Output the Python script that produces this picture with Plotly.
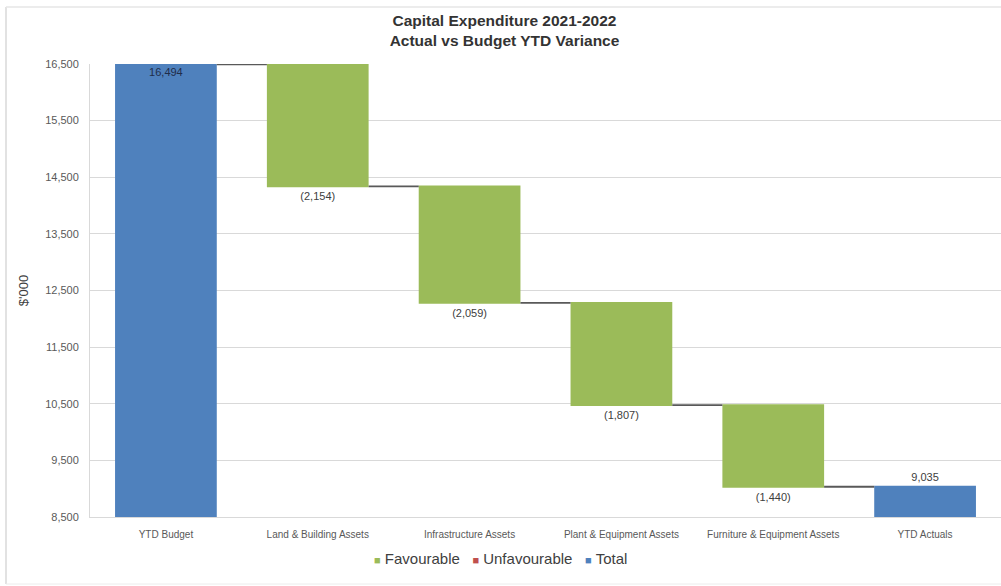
import plotly.graph_objects as go

# Capital expenditure waterfall: YTD budget, variances by asset class, YTD actuals
categories = ["YTD Budget", "Land & Building Assets", "Infrastructure Assets",
              "Plant & Equipment Assets", "Furniture & Equipment Assets", "YTD Actuals"]
values = [16494, -2154, -2059, -1807, -1440, 9035]
measures = ["absolute", "relative", "relative", "relative", "relative", "absolute"]
labels = ["16,494", "(2,154)", "(2,059)", "(1,807)", "(1,440)", "9,035"]
y_ticks = [8500, 9500, 10500, 11500, 12500, 13500, 14500, 15500, 16500]
y_tick_text = ["8,500", "9,500", "10,500", "11,500", "12,500", "13,500", "14,500", "15,500", "16,500"]
legend_names = ["Favourable", "Unfavourable", "Total"]

GREEN = "#9bbb59"
RED = "#c0504d"
BLUE = "#4f81bd"
legend_colors = [GREEN, RED, BLUE]
FONT = "Liberation Sans, Arial, sans-serif"
NBSP = "\u00a0"

fig = go.Figure()
fig.add_trace(go.Waterfall(
    x=categories,
    y=values,
    measure=measures,
    text=labels,
    textposition=["inside", "outside", "outside", "outside", "outside", "outside"],
    insidetextanchor="end",
    textfont=dict(family=FONT, size=11, color="#404040"),
    insidetextfont=dict(family=FONT, size=11, color="#1f2d4a"),
    outsidetextfont=dict(family=FONT, size=11, color="#404040"),
    decreasing=dict(marker=dict(color=GREEN)),
    increasing=dict(marker=dict(color=RED)),
    totals=dict(marker=dict(color=BLUE)),
    connector=dict(mode="between", line=dict(color="#595959", width=1.8)),
    width=0.67,
    showlegend=False,
    hoverinfo="x+y",
))

# Compact legend row: small coloured squares followed by the series names
legend_text = (NBSP * 3).join(
    f"<span style='color:{c};font-size:11px'>■</span>{NBSP}{n}"
    for n, c in zip(legend_names, legend_colors)
)

fig.update_layout(
    width=1001, height=586,
    margin=dict(l=90, r=0, t=64, b=69),
    paper_bgcolor="white",
    plot_bgcolor="white",
    font=dict(family=FONT, color="#404040"),
    showlegend=False,
    title=dict(
        text="<b>Capital Expenditure 2021-2022<br>Actual vs Budget YTD Variance</b>",
        x=0.504, xref="container", xanchor="center",
        yref="container", y=1 - 26 / 586, yanchor="middle",
        font=dict(family=FONT, size=15.5, color="#333333"),
    ),
    annotations=[dict(
        text=legend_text, showarrow=False,
        xref="paper", yref="paper",
        x=(500 - 90) / 911, y=(517 - 558) / 453,
        xanchor="center", yanchor="middle",
        font=dict(family=FONT, size=15, color="#404040"),
    )],
    yaxis=dict(
        range=[8500, 16500],
        tickvals=y_ticks, ticktext=y_tick_text,
        tickfont=dict(family=FONT, size=11, color="#595959"),
        showgrid=True, gridcolor="#d9d9d9", gridwidth=1,
        showline=True, linecolor="#d9d9d9", linewidth=1,
        zeroline=False, ticks="", ticklabelstandoff=8,
        title=dict(text="$'000", font=dict(family=FONT, size=13, color="#404040"), standoff=13),
    ),
    xaxis=dict(
        tickfont=dict(family=FONT, size=10, color="#595959"),
        showline=True, linecolor="#d9d9d9", linewidth=1,
        showgrid=False, ticks="", ticklabelstandoff=8,
    ),
    shapes=[
        dict(type="line", xref="paper", yref="paper",
             x0=(6 - 90) / 911, x1=(6 - 90) / 911, y0=-(584 - 517) / 453, y1=(517 - 7) / 453,
             line=dict(color="#d9d9d9", width=1.5)),
        dict(type="line", xref="paper", yref="paper",
             x0=(6 - 90) / 911, x1=1, y0=(517 - 7) / 453, y1=(517 - 7) / 453,
             line=dict(color="#e6e6e6", width=1.5)),
        dict(type="line", xref="paper", yref="paper",
             x0=(6 - 90) / 911, x1=1, y0=-(584 - 517) / 453, y1=-(584 - 517) / 453,
             line=dict(color="#ececec", width=1)),
    ],
)

fig.write_html("out.html")
